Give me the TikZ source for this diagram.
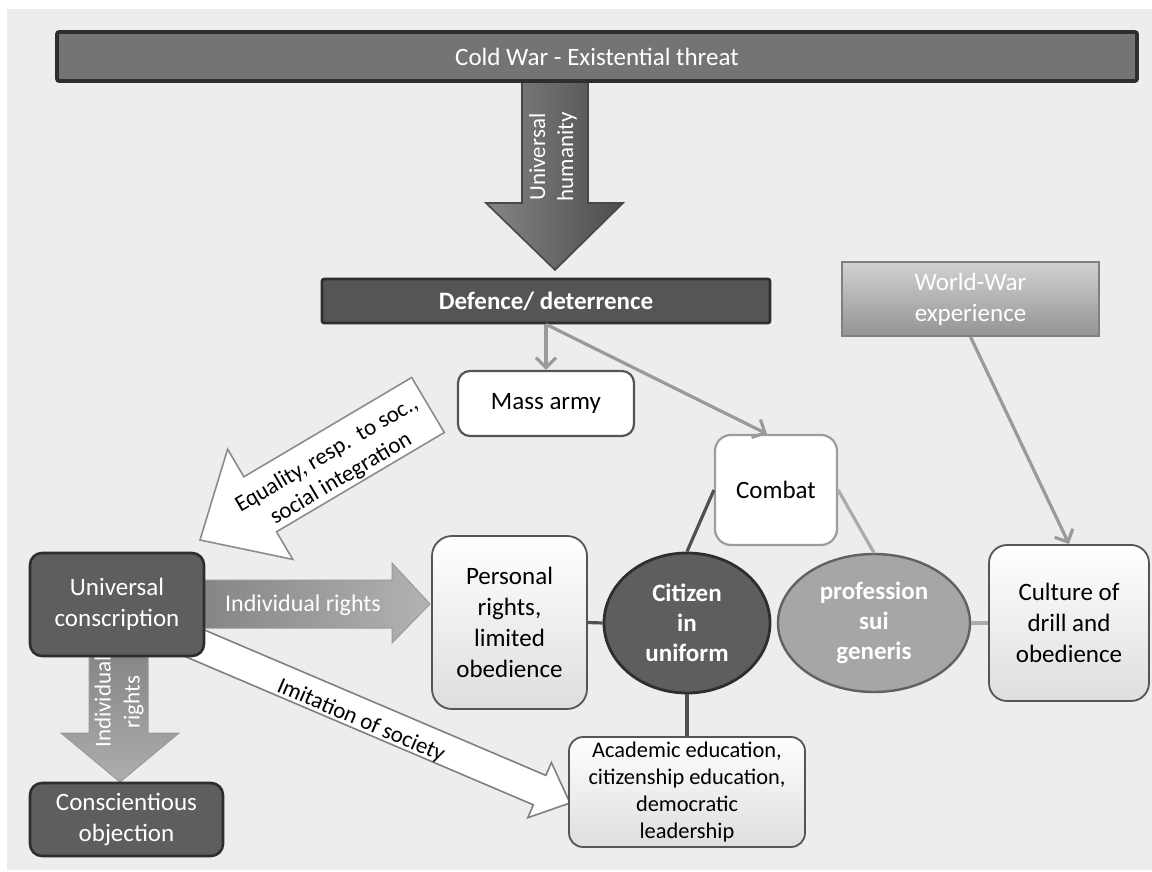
\documentclass[tikz,border=0pt]{standalone}
\usepackage{fontspec}
\setmainfont{Carlito}
\usetikzlibrary{arrows.meta,shapes.geometric}
\definecolor{bgc}{HTML}{EDEDED}
\definecolor{darkfill}{HTML}{5E5E5E}
\definecolor{darkline}{HTML}{2E2E2E}
\definecolor{bannerfill}{HTML}{747474}
\definecolor{midline}{HTML}{555555}
\definecolor{connc}{HTML}{9A9A9A}
\definecolor{connd}{HTML}{505050}
\definecolor{lightline}{HTML}{9C9C9C}
\tikzset{
  txt/.style={font=\fontsize{12.5}{15.5}\selectfont, align=center, inner sep=0pt},
  darkbox/.style={txt, draw=darkline, fill=darkfill, line width=1.3pt, rounded corners=6pt, text=white},
  bannerbox/.style={txt, draw=darkline, fill=bannerfill, line width=1.8pt, rounded corners=1pt, text=white},
  defbox/.style={txt, draw=darkline, fill=darkfill!90!black, line width=1.3pt, rounded corners=1pt, text=white, font=\fontsize{12.5}{15.5}\selectfont\bfseries},
  whitebox/.style={txt, draw=midline, fill=white, line width=1.1pt, rounded corners=6pt},
  combatbox/.style={txt, draw=lightline, fill=white, line width=1.1pt, rounded corners=8pt},
  gradbox/.style={txt, draw=midline, line width=0.9pt, top color=white, bottom color=black!13},
  wwbox/.style={txt, draw=black!50, line width=0.9pt, top color=black!18, bottom color=black!42, text=white},
  citell/.style={ellipse, txt, draw=darkline, fill=darkfill, line width=1.4pt, text=white, font=\fontsize{12.5}{15}\selectfont\bfseries},
  profell/.style={ellipse, txt, draw=black!62, fill=black!35, line width=1.2pt, text=white, font=\fontsize{12.5}{15}\selectfont\bfseries},
  conn/.style={draw=connc, line width=1.6pt},
  connlight/.style={draw=black!33, line width=1.6pt},
  conndark/.style={draw=connd, line width=1.6pt},
  barb/.style={-{Straight Barb[length=5pt,width=10pt]}},
  arrowtxt/.style={align=center, inner sep=0pt, font=\fontsize{11.5}{14}\selectfont}
}
\begin{document}
\begin{tikzpicture}[x=0.5pt,y=-0.5pt]
\useasboundingbox (0,0) rectangle (1152,872);
\fill[bgc] (7,9) rectangle (1152,870);

% big down arrow
\coordinate (dtop) at (555,80);
\shade[left color=black!48, right color=black!70, draw=black!72, line width=0.8pt]
  (522,80) -- (588,80) -- (588,203) -- (623,203) -- (555,270) -- (486,203) -- (522,203) -- cycle;
\node[arrowtxt, text=white, rotate=90] (uh) at (553,157) {Universal\\humanity};

% equality arrow
\filldraw[fill=white, draw=black!45, line width=0.8pt]
  (411.7,377.5) -- (444.3,432.5) -- (276.5,531.8) -- (292.8,559.4) -- (200,540)
  -- (227.6,449.2) -- (243.9,476.8) -- cycle;
\node[arrowtxt, rotate=30.6] (eq) at (334,467) {Equality, resp.\ \ to soc.,\\social integration};

% imitation arrow
\filldraw[fill=white, draw=black!50, line width=0.8pt]
  (183.4,621) -- (545.9,775.4) -- (551.4,762.5) -- (570,803) -- (527.8,817.7)
  -- (533.3,804.8) -- (170.8,650.4) -- cycle;
\node[arrowtxt, rotate=-23.1] (imit) at (361,721) {Imitation of society};

% individual rights horizontal arrow
\shade[left color=black!48, right color=black!30, draw=black!40, line width=0.5pt]
  (200,580) -- (392,580) -- (392,563) -- (430,604) -- (392,643) -- (392,628) -- (200,628) -- cycle;
\node[arrowtxt, text=white, font=\fontsize{12}{14}\selectfont] (ir1) at (303,605) {Individual rights};

% individual rights vertical arrow
\shade[top color=black!48, bottom color=black!32, draw=black!40, line width=0.5pt]
  (89,650) -- (148,650) -- (148,733) -- (179,733) -- (120,782) -- (61,733) -- (89,733) -- cycle;
\node[arrowtxt, text=white, rotate=90, font=\fontsize{11.5}{14.5}\selectfont] (ir2) at (119,702) {Individual\\rights};

% nodes
\node[bannerbox, minimum width=540pt, minimum height=24.5pt] (cold) at (597,56.5) {Cold War - Existential threat};
\node[defbox, minimum width=224pt, minimum height=22pt] (def) at (546,301) {Defence/ deterrence};
\node[whitebox, minimum width=88pt, minimum height=32.5pt] (mass) at (546,403.5) {Mass army};
\node[combatbox, minimum width=61pt, minimum height=55pt] (combat) at (776,490) {Combat};
\node[wwbox, minimum width=128.5pt, minimum height=37pt] (ww) at (970.5,299) {World-War\\experience};
\node[gradbox, rounded corners=9pt, minimum width=80pt, minimum height=78pt] (culture) at (1069,623) {Culture of\\drill and\\obedience};
\node[profell, minimum width=96pt, minimum height=69pt] (prof) at (874,623) {profession\\sui\\generis};
\node[citell, minimum width=83pt, minimum height=70pt] (cit) at (687,623) {Citizen\\in\\uniform};
\node[gradbox, rounded corners=10pt, minimum width=77.5pt, minimum height=86.5pt] (pers) at (509.5,622.5) {Personal\\rights,\\limited\\obedience};
\node[gradbox, rounded corners=7pt, minimum width=118pt, minimum height=55pt, font=\fontsize{11.2}{13.5}\selectfont] (acad) at (687,792) {Academic education,\\citizenship education,\\democratic\\leadership};
\node[darkbox, minimum width=87pt, minimum height=51.5pt] (univ) at (117,604.5) {Universal\\conscription};
\node[darkbox, minimum width=96.5pt, minimum height=36.5pt] (consc) at (126.5,819.5) {Conscientious\\objection};

% connectors
\draw[conn, barb] (def.south) -- (mass.north);
\draw[conn, barb] (def.south) -- ([xshift=-4.5pt]combat.north);
\draw[conn, barb] (ww.south) -- (culture.north);
\draw[connlight] (combat.east) -- (prof.north);
\draw[connlight] (prof.east) -- (culture.west);
\draw[conndark] (pers.east) -- (cit.west);
\draw[conndark] (cit.south) -- (acad.north);
\draw[conndark] (cit.north) -- (combat.west);
\end{tikzpicture}
\end{document}
